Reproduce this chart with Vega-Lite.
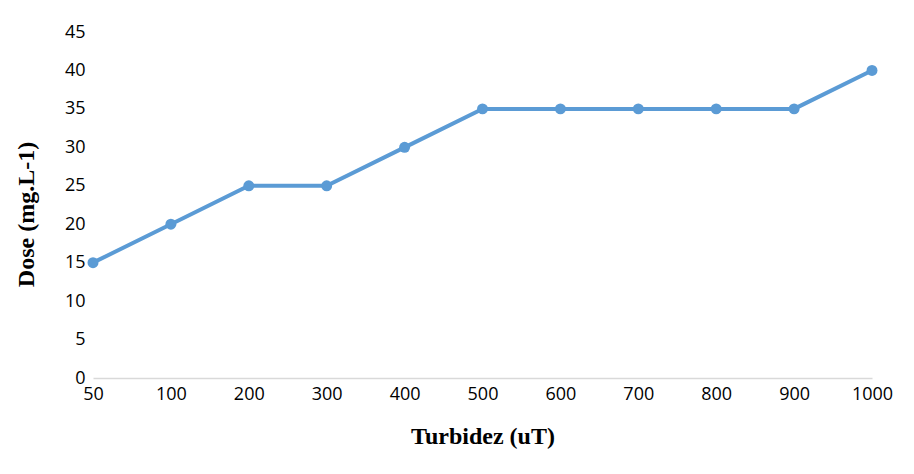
{
  "$schema": "https://vega.github.io/schema/vega-lite/v6.json",
  "autosize": "none",
  "width": 779,
  "height": 346,
  "padding": {"left": 93, "top": 32, "right": 42, "bottom": 96},
  "background": "white",
  "config": {"view": {"stroke": null}},
  "data": {"values": [
    {"turbidez": "50", "dose": 15},
    {"turbidez": "100", "dose": 20},
    {"turbidez": "200", "dose": 25},
    {"turbidez": "300", "dose": 25},
    {"turbidez": "400", "dose": 30},
    {"turbidez": "500", "dose": 35},
    {"turbidez": "600", "dose": 35},
    {"turbidez": "700", "dose": 35},
    {"turbidez": "800", "dose": 35},
    {"turbidez": "900", "dose": 35},
    {"turbidez": "1000", "dose": 40}
  ]},
  "mark": {"type": "line", "color": "#5B9BD5", "strokeWidth": 4, "point": {"filled": true, "size": 120, "color": "#5B9BD5"}},
  "encoding": {
    "x": {
      "field": "turbidez", "type": "ordinal", "sort": null,
      "scale": {"type": "point", "padding": 0},
      "axis": {
        "title": "Turbidez (uT)", "titleFont": "Liberation Serif", "titleFontSize": 24, "titleFontWeight": "bold",
        "titleColor": "#000", "titlePadding": 21,
        "labelFont": "Open Sans", "labelFontSize": 18, "labelColor": "#000", "labelAngle": 0, "labelPadding": 7,
        "ticks": false, "domainColor": "#D9D9D9", "domainWidth": 1.5, "grid": false
      }
    },
    "y": {
      "field": "dose", "type": "quantitative",
      "scale": {"domain": [0, 45]},
      "axis": {
        "title": "Dose (mg.L-1)", "titleFont": "Liberation Serif", "titleFontSize": 24, "titleFontWeight": "bold",
        "titleColor": "#000", "titlePadding": 26, "titleY": 182,
        "values": [0, 5, 10, 15, 20, 25, 30, 35, 40, 45],
        "labelFont": "Open Sans", "labelFontSize": 18, "labelColor": "#000", "labelPadding": 8,
        "ticks": false, "domain": false, "grid": false
      }
    }
  }
}
